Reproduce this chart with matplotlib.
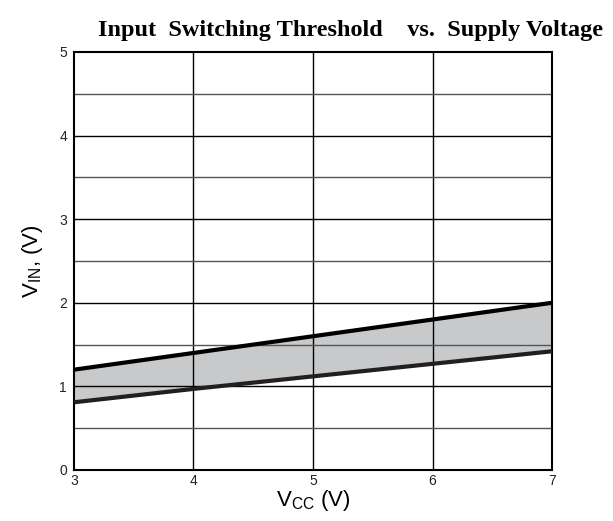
import matplotlib
matplotlib.use('Agg')
import matplotlib.pyplot as plt

# supply voltage and threshold limits
vcc = [3, 4, 5, 6, 7]
vin_high = [1.2, 1.4, 1.6, 1.8, 2.0]
vin_low = [0.81, 0.97, 1.12, 1.27, 1.42]

xticks = [3, 4, 5, 6, 7]
yticks = [0, 1, 2, 3, 4, 5]

fig = plt.figure(figsize=(6.13, 5.21), dpi=100)
ax = fig.add_axes([0.1207, 0.0979, 0.7798, 0.8023])

ax.fill_between(vcc, vin_low, vin_high, color='#c8c9cb', zorder=1)
ax.plot(vcc, vin_high, color='black', lw=3, zorder=3, solid_capstyle='butt')
ax.plot(vcc, vin_low, color='#231f20', lw=3, zorder=3, solid_capstyle='butt')

ax.set_xlim(3, 7)
ax.set_ylim(0, 5)

# grid: vertical at integers, horizontal every 0.5
for x in [4, 5, 6]:
    ax.axvline(x, color='black', lw=1, zorder=2)
for y in [0.5, 1, 1.5, 2, 2.5, 3, 3.5, 4, 4.5]:
    c = 'black' if y == int(y) else '#555555'
    ax.axhline(y, color=c, lw=1, zorder=2)

for s in ax.spines.values():
    s.set_linewidth(1.5)

ax.set_xticks(xticks)
ax.set_yticks(yticks)
ax.tick_params(length=0, labelsize=10, labelcolor='#222222')
for lbl in ax.get_xticklabels() + ax.get_yticklabels():
    lbl.set_fontfamily('Liberation Sans')
ax.tick_params(axis='x', pad=3)
ax.tick_params(axis='y', pad=5)

ax.set_xlabel(r'V$_{\mathregular{CC}}$ (V)', fontsize=16, family='Liberation Sans', labelpad=0)
ax.set_ylabel(r'V$_{\mathregular{IN}}$, (V)', fontsize=16, family='Liberation Sans', labelpad=10)

fig.text(0.571, 0.942, 'Input  Switching Threshold    vs.  Supply Voltage',
         ha='center', va='center', fontsize=17.5, fontweight='bold', family='Liberation Serif')

fig.savefig('out.png', dpi=100)
